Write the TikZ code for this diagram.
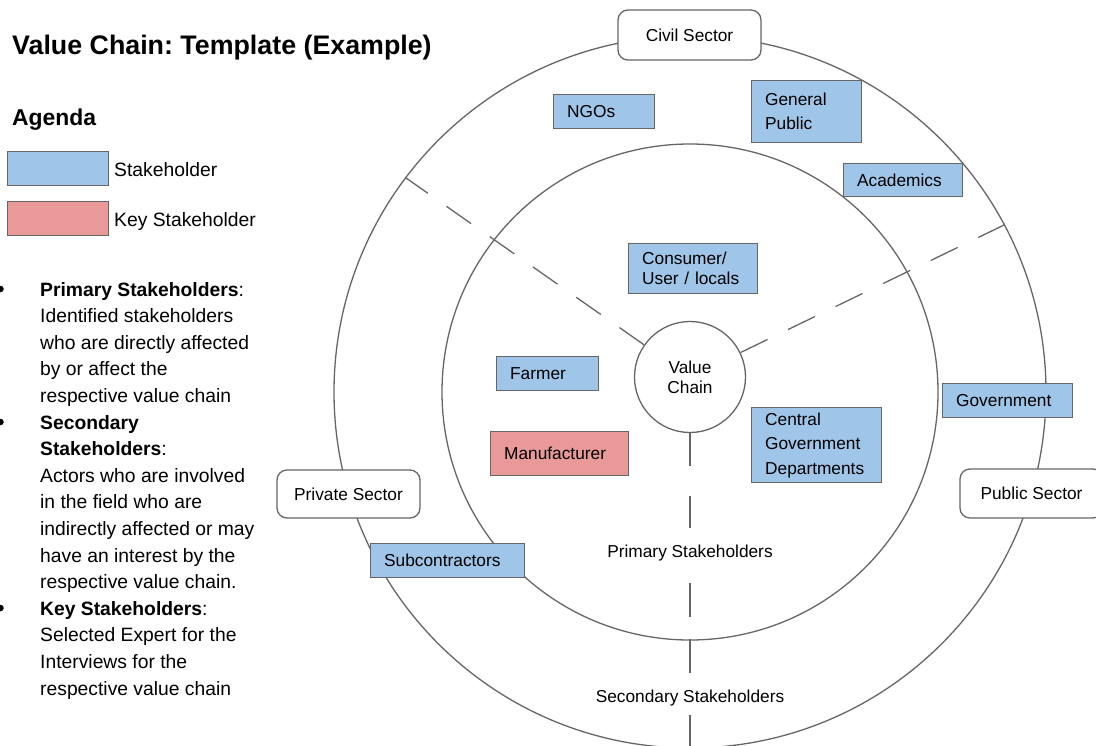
\documentclass[tikz,border=0pt]{standalone}
\usepackage{fontspec}
\setmainfont{Liberation Sans}
\frenchspacing
\definecolor{shblue}{HTML}{9FC5E8}
\definecolor{keyred}{HTML}{EA9999}
\definecolor{rim}{HTML}{666666}

\begin{document}
\begin{tikzpicture}[x=1pt,y=-1pt,
  ring/.style={circle, draw=rim, line width=1.3pt, inner sep=0pt},
  divider/.style={draw=rim, line width=1.3pt},
  boxtext/.style={font=\fontsize{17.3}{24}\selectfont},
  actor/.style={draw=rim, line width=1.3pt, fill=shblue, anchor=north west,
    inner xsep=13.5pt, inner ysep=0pt, align=left, boxtext},
  keyactor/.style={actor, fill=keyred},
  sector/.style={draw=rim, line width=1.3pt, fill=white, rounded corners=10pt,
    minimum width=143pt, inner sep=0pt, boxtext},
  plain/.style={inner sep=0pt, anchor=base west},
  bodytext/.style={plain, font=\fontsize{19.3}{26.6}\selectfont},
  bulletdot/.style={circle, fill=black, minimum size=6.5pt, inner sep=0pt},
]
\useasboundingbox (0,0) rectangle (1096,745);

% heading and legend
\node[plain, font=\bfseries\fontsize{26.8}{32}\selectfont] (title) at (12,54.5) {Value Chain: Template (Example)};
\node[plain, font=\bfseries\fontsize{22.9}{28}\selectfont] (agenda) at (12,125) {Agenda};
\node[actor, text width=74pt, minimum height=34pt] (legblue) at (7,151) {};
\node[keyactor, text width=74pt, minimum height=34pt] (legred) at (7,201) {};
\node[bodytext] (legbluetxt) at (114,176.7) {Stakeholder};
\node[bodytext] (legredtxt) at (114,226.7) {Key Stakeholder};

% definitions
\node[bulletdot] (b1) at (0.5,289) {};
\node[bulletdot] (b2) at (0.5,422) {};
\node[bulletdot] (b3) at (0.5,608) {};
\node[bodytext] (defs) at (40,296) {\begin{tabular}[t]{@{}l@{}}
\textbf{Primary Stakeholders}:\\
Identified stakeholders\\
who are directly affected\\
by or affect the\\
respective value chain\\
\textbf{Secondary}\\
\textbf{Stakeholders}:\\
Actors who are involved\\
in the field who are\\
indirectly affected or may\\
have an interest by the\\
respective value chain.\\
\textbf{Key Stakeholders}:\\
Selected Expert for the\\
Interviews for the\\
respective value chain
\end{tabular}};

% stakeholder rings
\node[ring, minimum size=712pt] (outer) at (690,392) {};
\node[ring, minimum size=496pt] (inner) at (690,392) {};
\node[ring, fill=white, minimum size=111pt, align=center,
  font=\fontsize{17.3}{20}\selectfont] (vc) at (690,377) {Value\\Chain};

% ring labels
\node[boxtext, inner sep=2pt] (prim) at (690,553) {Primary Stakeholders};
\node[boxtext, inner sep=2pt] (sec) at (690,698) {Secondary Stakeholders};
\coordinate (bot) at (690,770);

% sector dividers
\draw[divider, dash pattern=on 30pt off 22.8pt] (vc) -- (outer.143);
\draw[divider, dash pattern=on 30pt off 22.8pt] (vc) -- (outer.28);
\draw[divider, dash pattern=on 33pt off 29.5pt, shorten >=25.5pt] (vc) -- (prim.center);
\draw[divider, dash pattern=on 34pt off 22pt, shorten <=30pt, shorten >=25pt] (prim.center) -- (sec.center);
\draw[divider, dash pattern=on 34pt off 22pt, shorten <=17pt] (sec.center) -- (bot);

% sectors
\node[sector, minimum height=50pt] (civil) at (689.5,35) {Civil Sector};
\node[sector, minimum height=48pt] (private) at (348.5,494) {Private Sector};
\node[sector, minimum height=49pt] (public) at (1031.5,493.5) {Public Sector};

% stakeholders
\node[actor, text width=74pt, minimum height=34pt] (ngo) at (553,94) {NGOs};
\node[actor, text width=83pt, minimum height=62pt] (gp) at (751,80) {General\\Public};
\node[actor, text width=92pt, minimum height=33pt] (acad) at (843,163) {Academics};
\node[actor, text width=102pt, minimum height=50pt,
  font=\fontsize{17.3}{20}\selectfont] (cons) at (628,243) {Consumer/\\User / locals};
\node[actor, text width=75pt, minimum height=34pt] (farm) at (496,356) {Farmer};
\node[keyactor, text width=111pt, minimum height=44pt] (manu) at (490,431) {Manufacturer};
\node[actor, text width=103pt, minimum height=75pt,
  font=\fontsize{17.3}{24.5}\selectfont] (cgd) at (751,407) {Central\\Government\\Departments};
\node[actor, text width=103pt, minimum height=34pt] (gov) at (942,383) {Government};
\node[actor, text width=127pt, minimum height=34pt] (sub) at (370,543) {Subcontractors};
\end{tikzpicture}
\end{document}
